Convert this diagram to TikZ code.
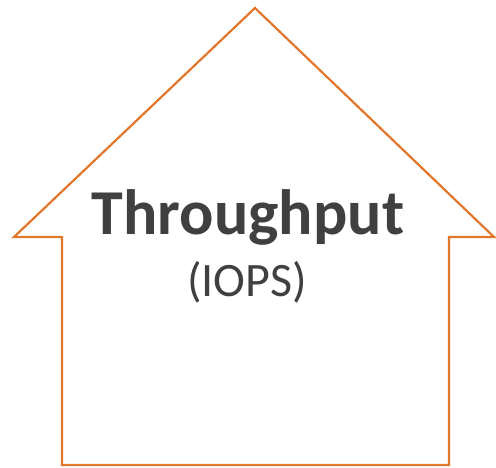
\documentclass[tikz,border=0pt]{standalone}
\usepackage{fontspec}
\setmainfont{Carlito}
\definecolor{housecol}{HTML}{E2762A}
\definecolor{textgray}{HTML}{404040}
\tikzset{%
outline/.style={draw=housecol,line width=2.2pt,line join=miter},
bigtitle/.style={font=\bfseries\fontsize{64}{76}\selectfont,text=textgray,inner sep=0pt,anchor=base},
subtitle/.style={font=\fontsize{48}{56}\selectfont,text=textgray,inner sep=0pt,anchor=base}
}

\begin{document}
\begin{tikzpicture}[x=1pt,y=1pt]
    \useasboundingbox (0,0) rectangle (496,467);

    % the up-arrow outline
    \draw[outline] (62,2) -- (62,230) -- (14,230) -- (255,459)
                   -- (494,230) -- (449,230) -- (449,2) -- cycle;

    \node[bigtitle] (title) at (248,233) {Throughput};
    \node[subtitle] (unit)  at (247,171) {(IOPS)};
  \end{tikzpicture}
\end{document}
